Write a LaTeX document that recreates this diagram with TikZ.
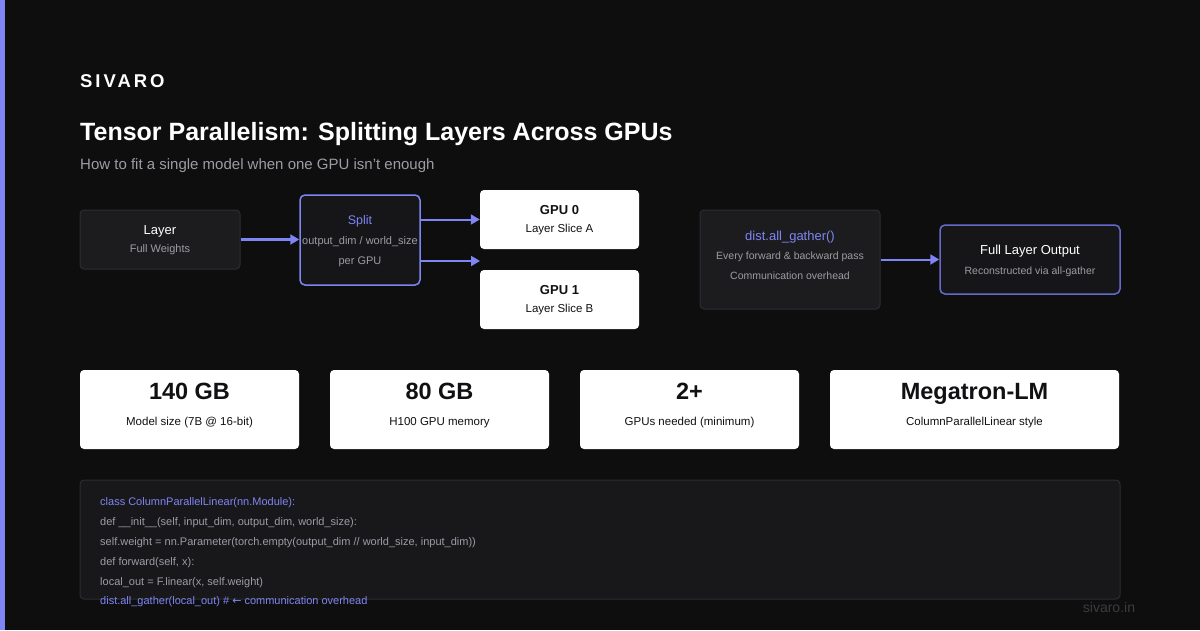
\documentclass[tikz,border=0pt]{standalone}
\usepackage{fontspec}
\setmainfont{Liberation Sans}
\newfontfamily\arrowfont{DejaVu Sans}
\usetikzlibrary{positioning, arrows.meta, calc}
\definecolor{bgdark}{HTML}{0E0E0F}
\definecolor{accent}{HTML}{7F85F2}
\definecolor{accentdim}{HTML}{6569CC}
\definecolor{panelfill}{HTML}{1C1C1F}
\definecolor{panelline}{HTML}{2D2D31}
\definecolor{splitfill}{HTML}{161619}
\definecolor{codefill}{HTML}{18181B}
\definecolor{muted}{HTML}{9C9CA4}
\definecolor{faint}{HTML}{3C3C40}
\definecolor{ink}{HTML}{111113}
\tikzset{
  >={Triangle[length=9pt, width=10pt]},
  panel/.style={draw=panelline, fill=panelfill, rounded corners=4pt, line width=1pt, inner sep=0pt},
  accentbox/.style={draw=accent, fill=splitfill, rounded corners=5pt, line width=1.5pt, inner sep=0pt},
  card/.style={fill=white, rounded corners=4pt, inner sep=0pt},
  txt/.style={inner sep=0pt, text height=0.72em, text depth=0pt},
  head/.style={txt, text=white, node font=\fontsize{13}{15}\selectfont},
  sub/.style={txt, text=muted, node font=\fontsize{11}{13}\selectfont},
  small/.style={node font=\fontsize{10.5}{12}\selectfont},
  gpuhead/.style={txt, text=ink, node font=\fontsize{13}{15}\selectfont\bfseries},
  gpusub/.style={txt, text=ink, node font=\fontsize{11.5}{13}\selectfont},
  bignum/.style={txt, text=ink, node font=\fontsize{23.5}{26}\selectfont\bfseries},
  cardsub/.style={txt, text=ink, node font=\fontsize{11.5}{13}\selectfont},
  code/.style={txt, anchor=west, text=muted, node font=\fontsize{11}{12}\selectfont},
  flow/.style={->, draw=accent, line width=2pt},
}

\begin{document}
\begin{tikzpicture}[x=1pt, y=-1pt]
  \fill[bgdark] (0,0) rectangle (1200,630);
  \useasboundingbox (0,0) rectangle (1200,630);
  \fill[accent] (0,0) rectangle (5,630);

  \node[txt, anchor=west, text=white, node font=\fontsize{18.5}{20}\selectfont\bfseries\addfontfeatures{LetterSpace=16}] (brand) at (80,81) {SIVARO};
  \node[txt, anchor=west, text=white, node font=\fontsize{25}{28}\selectfont\bfseries] (title) at (80,131) {Tensor Parallelism: Splitting Layers Across GPUs};
  \node[txt, anchor=west, text=muted, node font=\fontsize{15}{17}\selectfont] (tagline) at (80,164) {How to fit a single model when one GPU isn't enough};

  \node[panel, minimum width=160pt, minimum height=59pt] (layer) at (160,239.5) {};
  \node[head] at ($(layer.north)+(0,20.5)$) {Layer};
  \node[sub] at ($(layer.north)+(0,39)$) {Full Weights};

  \node[accentbox, minimum width=120pt, minimum height=90pt] (split) at (360,240) {};
  \node[head, text=accent, node font=\fontsize{12.5}{15}\selectfont] at ($(split.north)+(0,25.5)$) {Split};
  \node[sub] at ($(split.north)+(0,46.5)$) {output\_dim / world\_size};
  \node[sub] at ($(split.north)+(0,66)$) {per GPU};

  \node[card, minimum width=159pt, minimum height=59pt] (gpu0) at (559.5,219.5) {};
  \node[gpuhead] at ($(gpu0.north)+(0,20)$) {GPU 0};
  \node[gpusub] at ($(gpu0.north)+(0,39)$) {Layer Slice A};

  \node[card, minimum width=159pt, minimum height=59pt] (gpu1) at (559.5,299.5) {};
  \node[gpuhead] at ($(gpu1.north)+(0,20)$) {GPU 1};
  \node[gpusub] at ($(gpu1.north)+(0,39)$) {Layer Slice B};
  \coordinate (gap) at (480,261);

  \node[panel, minimum width=180pt, minimum height=99pt] (gather) at (790,259.5) {};
  \node[head, text=accent] at ($(gather.north)+(0,26)$) {dist.all\_gather()};
  \node[sub, small] at ($(gather.north)+(0,46)$) {Every forward \& backward pass};
  \node[sub, small] at ($(gather.north)+(0,66)$) {Communication overhead};

  \node[accentbox, draw=accentdim, minimum width=180pt, minimum height=69pt] (output) at (1030,259.5) {};
  \node[head] at ($(output.north)+(0,25.5)$) {Full Layer Output};
  \node[sub, small] at ($(output.north)+(0,46)$) {Reconstructed via all-gather};

  \draw[flow, line width=3pt] (layer.east) -- (layer.east -| split.west);
  \draw[flow] (split.east |- gpu0) -- (gpu0.west);
  \draw[flow] (split.east |- gap) -- (gap);
  \draw[flow] (gather.east) -- (gather.east -| output.west);

  \node[card, minimum width=219pt, minimum height=79pt] (card1) at (189.5,409.5) {};
  \node[bignum] at ($(card1.north)+(0,21.5)$) {140 GB};
  \node[cardsub] at ($(card1.north)+(0,51.5)$) {Model size (7B @ 16-bit)};

  \node[card, minimum width=219pt, minimum height=79pt] (card2) at (439.5,409.5) {};
  \node[bignum] at ($(card2.north)+(0,21.5)$) {80 GB};
  \node[cardsub] at ($(card2.north)+(0,51.5)$) {H100 GPU memory};

  \node[card, minimum width=219pt, minimum height=79pt] (card3) at (689.5,409.5) {};
  \node[bignum] at ($(card3.north)+(0,21.5)$) {2+};
  \node[cardsub] at ($(card3.north)+(0,51.5)$) {GPUs needed (minimum)};

  \node[card, minimum width=289pt, minimum height=79pt] (card4) at (974.5,409.5) {};
  \node[bignum] at ($(card4.north)+(0,21.5)$) {Megatron-LM};
  \node[cardsub] at ($(card4.north)+(0,51.5)$) {ColumnParallelLinear style};

  \node[panel, fill=codefill, minimum width=1040pt, minimum height=119pt] (codebox) at (600,539.5) {};
  \node[code, text=accent] (line1) at (100,501.5) {class ColumnParallelLinear(nn.Module):};
  \node[code] (line2) at (100,521.5) {def \_\_init\_\_(self, input\_dim, output\_dim, world\_size):};
  \node[code] (line3) at (100,541.5) {self.weight = nn.Parameter(torch.empty(output\_dim // world\_size, input\_dim))};
  \node[code] (line4) at (100,561.5) {def forward(self, x):};
  \node[code] (line5) at (100,581.5) {local\_out = F.linear(x, self.weight)};
  \node[code, text=accent] (line6) at (100,601) {dist.all\_gather(local\_out) \# {\arrowfont ←} communication overhead};

  \node[txt, text=faint, node font=\fontsize{14}{16}\selectfont] (site) at (1109,607) {sivaro.in};
\end{tikzpicture}
\end{document}
